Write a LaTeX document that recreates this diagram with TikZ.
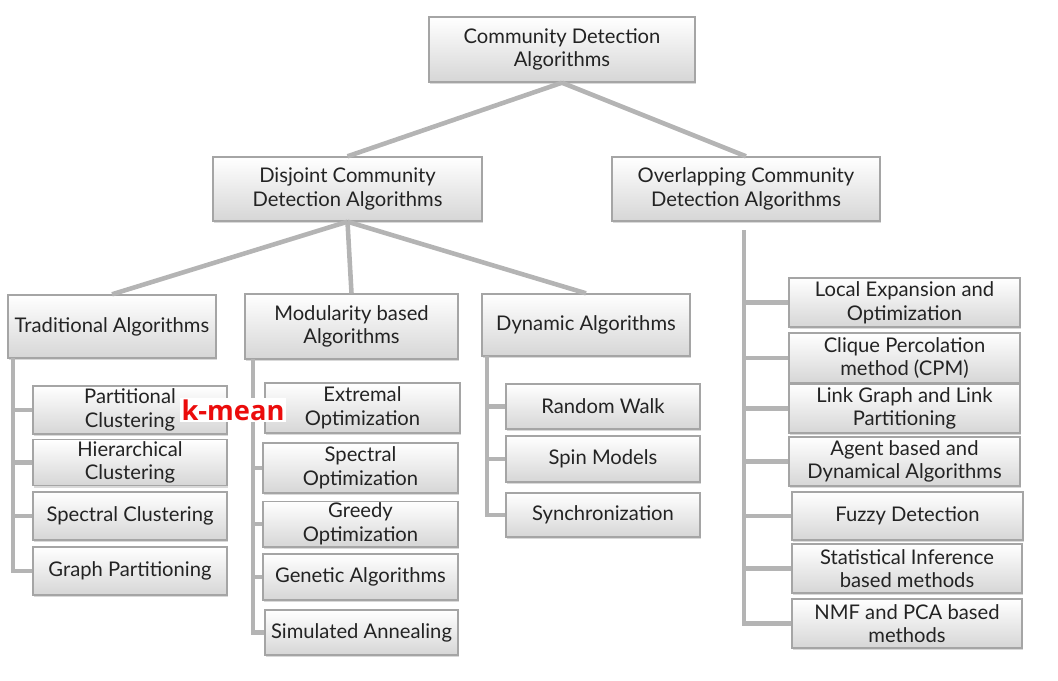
\documentclass[tikz,border=0pt]{standalone}
\usepackage{fontspec}
\setmainfont{Lato}
\newfontfamily\kfont{Open Sans}
\usetikzlibrary{shadows}
\definecolor{linegray}{RGB}{180,180,180}
\definecolor{boxline}{RGB}{165,165,165}
\definecolor{boxbot}{RGB}{214,214,214}
\definecolor{txt}{RGB}{35,35,35}
\definecolor{kred}{RGB}{235,12,12}
\tikzset{
  box/.style={draw=boxline, line width=0.8pt, top color=white, bottom color=boxbot,
    drop shadow={shadow xshift=0.6pt, shadow yshift=-1.2pt, opacity=0.3},
    align=center, inner sep=1pt, text=txt, font=\fontsize{11.5}{13.5}\selectfont},
  link/.style={draw=linegray, line width=2.6pt},
  kmean/.style={fill=white, inner sep=1pt, text=kred, font=\kfont\bfseries\fontsize{15.5}{17}\selectfont},
}
\begin{document}
\begin{tikzpicture}[x=0.02cm, y=-0.02cm]
  \useasboundingbox (0,0) rectangle (1058,680);
  % top levels
  \node[box, minimum width=5.32cm, minimum height=1.30cm] (root) at (562,49.5) {Community Detection\\Algorithms};
  \node[box, minimum width=5.38cm, minimum height=1.28cm] (disj) at (347.5,189) {Disjoint Community\\Detection Algorithms};
  \node[box, minimum width=5.36cm, minimum height=1.28cm] (over) at (746,189) {Overlapping Community\\Detection Algorithms};
  \node[box, minimum width=4.16cm, minimum height=1.26cm] (trad) at (112,326.5) {Traditional Algorithms};
  \node[box, minimum width=4.26cm, minimum height=1.30cm] (modu) at (351.5,326.5) {Modularity based\\Algorithms};
  \node[box, minimum width=4.16cm, minimum height=1.24cm] (dyna) at (586,325) {Dynamic Algorithms};
  % traditional
  \node[box, minimum width=3.88cm, minimum height=0.96cm] (part) at (130,410) {Partitional\\Clustering};
  \node[box, minimum width=3.88cm, minimum height=0.90cm] (hier) at (130,462.5) {Hierarchical\\Clustering};
  \node[box, minimum width=3.88cm, minimum height=0.96cm] (spcl) at (130,516) {Spectral Clustering};
  \node[box, minimum width=3.88cm, minimum height=0.96cm] (grph) at (130,571) {Graph Partitioning};
  % modularity based
  \node[box, minimum width=3.90cm, minimum height=1.00cm] (extr) at (362.5,408) {Extremal\\Optimization};
  \node[box, minimum width=3.90cm, minimum height=1.00cm] (spop) at (360.5,468) {Spectral\\Optimization};
  \node[box, minimum width=3.90cm, minimum height=0.84cm] (gree) at (360.5,524) {Greedy\\Optimization};
  \node[box, minimum width=3.90cm, minimum height=0.92cm] (gene) at (360.5,577) {Genetic Algorithms};
  \node[box, minimum width=3.86cm, minimum height=0.90cm] (simu) at (361.5,632.5) {Simulated Annealing};
  % dynamic
  \node[box, minimum width=3.88cm, minimum height=0.90cm] (rand) at (603,406.5) {Random Walk};
  \node[box, minimum width=3.88cm, minimum height=0.92cm] (spin) at (603,459) {Spin Models};
  \node[box, minimum width=3.88cm, minimum height=0.88cm] (sync) at (603,515) {Synchronization};
  % overlapping
  \node[box, minimum width=4.62cm, minimum height=0.98cm] (loca) at (904.5,302.5) {Local Expansion and\\Optimization};
  \node[box, minimum width=4.62cm, minimum height=1.00cm] (cliq) at (904.5,358) {Clique Percolation\\method (CPM)};
  \node[box, minimum width=4.62cm, minimum height=0.98cm] (link) at (904.5,408.5) {Link Graph and Link\\Partitioning};
  \node[box, minimum width=4.62cm, minimum height=0.98cm] (agen) at (904.5,461.5) {Agent based and\\Dynamical Algorithms};
  \node[box, minimum width=4.62cm, minimum height=0.96cm] (fuzz) at (907.5,516) {Fuzzy Detection};
  \node[box, minimum width=4.60cm, minimum height=0.98cm] (stat) at (907,568.5) {Statistical Inference\\based methods};
  \node[box, minimum width=4.60cm, minimum height=0.98cm] (nmfp) at (907,623.5) {NMF and PCA based\\methods};
  % connectors
  \draw[link] (root.south) -- (disj.north);
  \draw[link] (root.south) -- (over.north);
  \draw[link] (disj.south) -- (trad.north);
  \draw[link] (disj.south) -- (modu.north);
  \draw[link] (disj.south) -- (dyna.north);
  \coordinate (tradT) at (13,358);
  \coordinate (moduT) at (253,359);
  \coordinate (dynaT) at (487,356);
  \coordinate (overT) at (744,230);
  \foreach \c in {part,hier,spcl,grph}
    \draw[link] (tradT) |- (\c.west);
  \foreach \c in {extr,spop,gree,gene,simu}
    \draw[link] (moduT) |- (\c.west);
  \foreach \c in {rand,spin,sync}
    \draw[link] (dynaT) |- (\c.west);
  \foreach \c in {loca,cliq,link,agen,fuzz,stat,nmfp}
    \draw[link] (overT) |- (\c.west);
  \node[kmean] (kmn) at (233,410) {k-mean};
\end{tikzpicture}
\end{document}
